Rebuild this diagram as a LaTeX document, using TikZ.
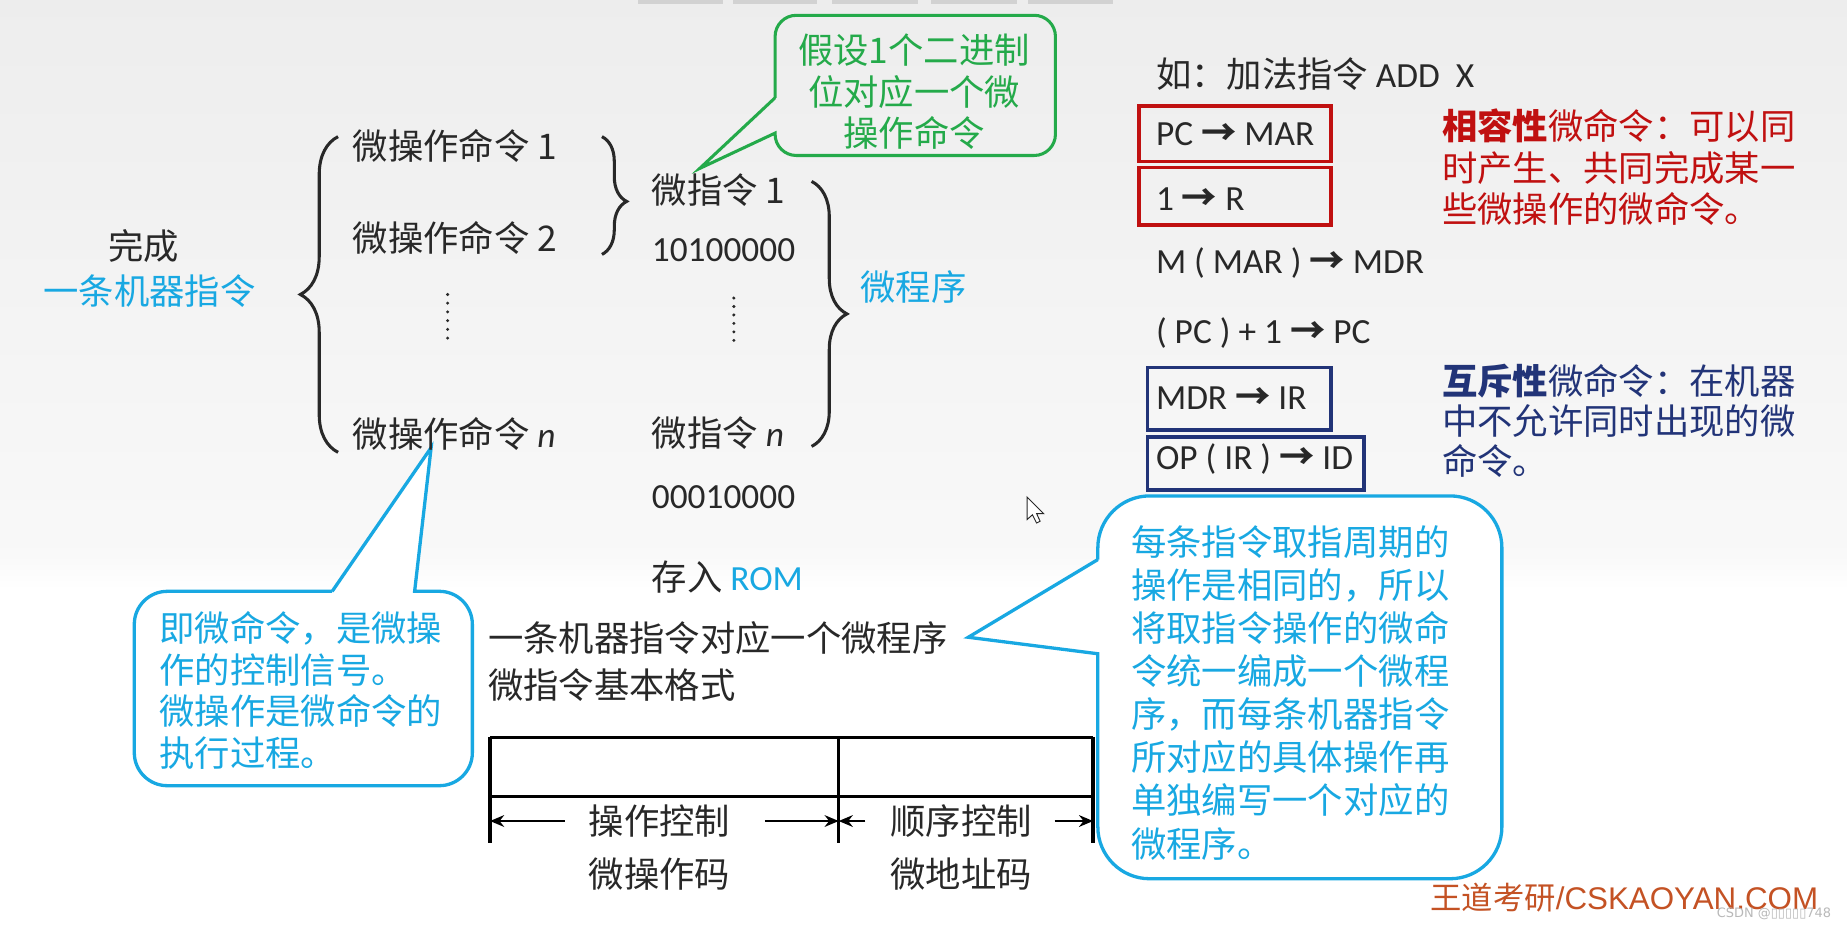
\documentclass[tikz,border=0pt]{standalone}
\usepackage{fontspec}
\setmainfont{Noto Sans CJK SC}
\newfontfamily\calfont{Carlito}
\newfontfamily\arialfont{Liberation Sans}
\newfontfamily\dejafont{DejaVu Sans}
\usetikzlibrary{arrows.meta,decorations.pathreplacing}
\definecolor{ink}{RGB}{40,40,40}
\definecolor{sky}{RGB}{24,168,226}
\definecolor{leaf}{RGB}{36,170,74}
\definecolor{brick}{RGB}{192,16,16}
\definecolor{navy}{RGB}{34,52,120}
\definecolor{rust}{RGB}{196,82,36}
\newcommand\goes{{\rmfamily\bfseries →}}
\begin{document}
\begin{tikzpicture}[
  x=0.5pt,
  y=-0.5pt,
  txt/.style={inner sep=0pt,text=ink,font=\fontsize{15}{18}\selectfont},
  lat/.style={txt,font=\calfont\fontsize{15}{18}\selectfont},
  note/.style={inner sep=0pt,align=left,anchor=west},
  bubble/.style={draw=sky,line width=1.4pt,fill=white},
  curly/.style={draw=ink,line width=1.3pt,decorate,decoration={brace,amplitude=#1}},
  opbox/.style={draw=#1,line width=1.4pt},
  rule/.style={draw=black,line width=1.5pt},
  fmtarrow/.style={draw=black,line width=0.9pt,-{Stealth[length=6pt,width=5pt]}}
]
  \useasboundingbox (0,0) rectangle (1568,786);
  \fill[white] (0,0) rectangle (1568,786);
  \shade[top color=gray!14,bottom color=gray!5] (0,0) rectangle (1568,470);
  \shade[top color=gray!5,bottom color=white] (0,470) rectangle (1568,500);
  \foreach \a/\b in {542/614,622/694,706/779,790/863,873/945} {
    \fill[gray!35] (\a,0) rectangle (\b,3);
  }

  \draw[leaf,line width=1.3pt] (658,83) -- (594,143) -- (658,113) -- (658,114)
    [rounded corners=9pt] -- (658,132) -- (896,132) -- (896,13) -- (658,13) -- (658,83);
  \filldraw[bubble] (282,502) -- (366,380) -- (352,502) -- (353,502)
    [rounded corners=14pt] -- (401,502) -- (401,667) -- (114,667) -- (114,502) -- (282,502);
  \filldraw[bubble] (932,475) -- (822,541) -- (932,555) -- (932,556)
    [rounded corners=22pt] -- (932,746) -- (1275,746) -- (1275,421) -- (932,421) -- (932,475);

  \node[txt] (done) at (122,209) {完成};
  \node[txt,text=sky] (whole) at (127,247) {一条机器指令};
  \draw[curly=16pt,decoration={aspect=0.5}] (287,384) -- (287,116);

  \node[txt,anchor=west] (op1) at (299,124) {微操作命令 1};
  \node[txt,anchor=west] (op2) at (299,202) {微操作命令 2};
  \node[txt,anchor=west] (opn) at (299,368) {微操作命令 {\calfont\itshape n}};
  \foreach \k in {0,...,5} {
    \fill[ink] (380,250+\k*7.4) circle (1.4);
    \fill[ink] (623,253+\k*7.2) circle (1.4);
  }
  \draw[curly=10.5pt,decoration={aspect=0.55}] (511,116) -- (511,216);

  \node[txt,anchor=west] (mi1) at (553,161) {微指令 1};
  \node[lat,anchor=west] (code1) at (553,212) {10100000};
  \node[txt,anchor=west] (min) at (553,368) {微指令 {\calfont\itshape n}};
  \node[lat,anchor=west] (coden) at (553,422) {00010000};
  \node[txt,anchor=west] (rom) at (553,490) {存入 {\calfont\color{sky}ROM}};
  \draw[curly=15pt,decoration={aspect=0.5}] (689,154) -- (689,379);
  \node[txt,anchor=west,text=sky] (prog) at (730,244) {微程序};

  \node[note,anchor=center,align=center,text=leaf,font=\fontsize{15}{17.6}\selectfont]
    (assume) at (776,78) {假设1个二进制\\位对应一个微\\操作命令};
  \node[note,text=sky,font=\fontsize{15}{17.7}\selectfont]
    (signal) at (135,586) {即微命令，是微操\\作的控制信号。\\微操作是微命令的\\执行过程。};
  \node[note,text=sky,font=\fontsize{15}{18.3}\selectfont]
    (fetch) at (960,588) {每条指令取指周期的\\操作是相同的，所以\\将取指令操作的微命\\令统一编成一个微程\\序，而每条机器指令\\所对应的具体操作再\\单独编写一个对应的\\微程序。};

  \node[txt,anchor=west] (map) at (414,542) {一条机器指令对应一个微程序};
  \node[txt,anchor=west] (format) at (414,582) {微指令基本格式};

  \coordinate (fl) at (416,626);
  \coordinate (fm) at (712,626);
  \coordinate (fr) at (928,626);
  \draw[rule] (fl) -- (fr);
  \draw[rule] (416,676) -- (928,676);
  \foreach \c in {fl,fm,fr} {
    \draw[rule] (\c) -- ++(0,90);
  }
  \node[txt] (opctl) at (560,697) {操作控制};
  \node[txt] (opcode) at (560,742) {微操作码};
  \node[txt] (seqctl) at (816,697) {顺序控制};
  \node[txt] (addr) at (816,742) {微地址码};
  \draw[fmtarrow] ([xshift=-10pt]opctl.west) -- (opctl.west -| fl);
  \draw[fmtarrow] ([xshift=14.5pt]opctl.east) -- (opctl.east -| fm);
  \draw[fmtarrow] ([xshift=-10.5pt]seqctl.west) -- (seqctl.west -| fm);
  \draw[fmtarrow] ([xshift=9.5pt]seqctl.east) -- (seqctl.east -| fr);

  \node[txt,anchor=west] (addx) at (981,63) {如：加法指令 {\calfont ADD\ \ X}};
  \node[lat,anchor=west] (pcmar) at (981,114) {PC \goes{} MAR};
  \node[lat,anchor=west] (oner) at (981,169) {1 \goes{} R};
  \node[lat,anchor=west] (memrd) at (981,223) {M ( MAR ) \goes{} MDR};
  \node[lat,anchor=west] (pcinc) at (981,283) {( PC ) + 1 \goes{} PC};
  \node[lat,anchor=west] (mdrir) at (981,338) {MDR \goes{} IR};
  \node[lat,anchor=west] (opid) at (981,390) {OP ( IR ) \goes{} ID};
  \draw[opbox=brick] (967,90) rectangle (1130,137);
  \draw[opbox=brick] (967,142) rectangle (1130,191);
  \draw[opbox=navy] (974,312) rectangle (1130,365);
  \draw[opbox=navy] (974,371) rectangle (1158,416);

  \node[note,text=brick,font=\fontsize{15}{17.5}\selectfont]
    (compat) at (1224,142) {\textbf{相容性}微命令：可以同\\时产生、共同完成某一\\些微操作的微命令。};
  \node[note,text=navy,font=\fontsize{15}{17}\selectfont]
    (mutex) at (1224,357) {\textbf{互斥性}微命令：在机器\\中不允许同时出现的微\\命令。};

  \filldraw[fill=white,draw=ink,line width=0.4pt] (872,422) -- (872,441) -- (876.5,437)
    -- (880,444) -- (883,442.5) -- (880,436) -- (886,436) -- cycle;

  \node[note,text=rust,font=\fontsize{13.3}{16}\selectfont] (brand) at (1214,762)
    {王道考研{\arialfont /CSKAOYAN.COM}};
  \node[note,anchor=east,text=gray!55,font=\dejafont\fontsize{5.5}{7}\selectfont] (csdn) at (1555,776)
    {CSDN @▯▯▯▯▯748};
\end{tikzpicture}
\end{document}
